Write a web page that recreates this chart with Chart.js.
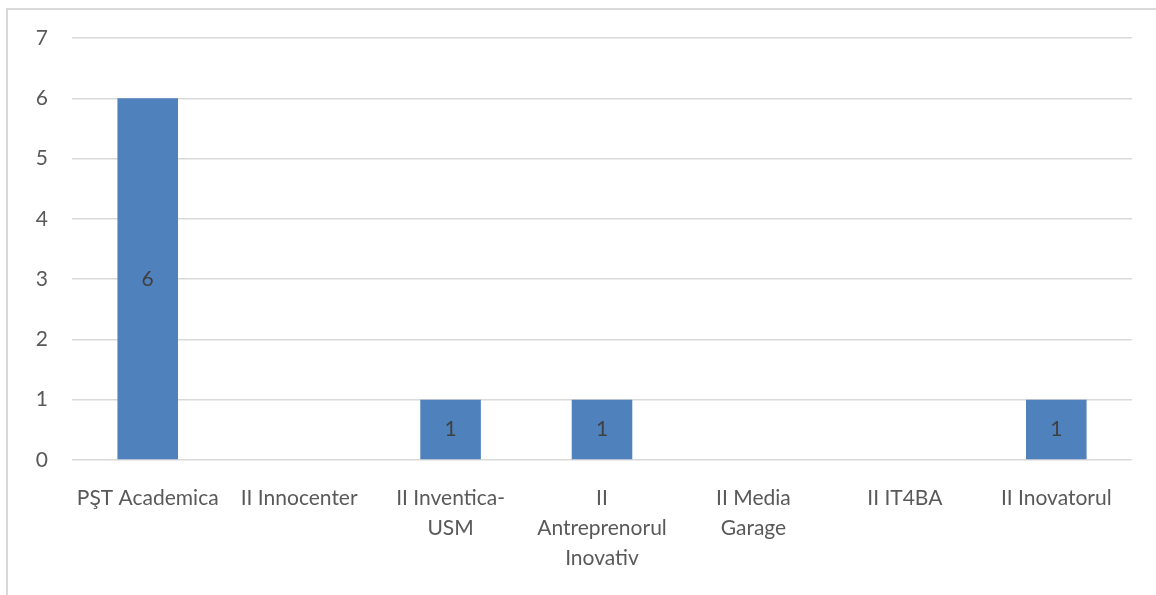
<!DOCTYPE html>
<html>
<head>
<meta charset="utf-8">
<script src="https://cdn.jsdelivr.net/npm/chart.js@4.4.0/dist/chart.umd.min.js"></script>
<style>
  html, body { margin: 0; padding: 0; background: #fff; }
  #wrap { position: relative; width: 1156px; height: 595px; overflow: hidden; }
  #frame { position: absolute; left: 6px; top: 8px; width: 1200px; height: 700px;
           border-left: 2px solid #d9d9d9; border-top: 2px solid #d9d9d9; }
  canvas { position: absolute; left: 0; top: 0; }
</style>
</head>
<body>
<div id="wrap">
  <div id="frame"></div>
  <canvas id="chart" width="1156" height="595"></canvas>
</div>
<script>
// categorii (etichete pe axa X, deja împărțite pe rânduri)
const categories = [
  'PŞT Academica',
  'II Innocenter',
  ['II Inventica-', 'USM'],
  ['II', 'Antreprenorul', 'Inovativ'],
  ['II Media', 'Garage'],
  'II IT4BA',
  'II Inovatorul'
];
const values = [6, 0, 1, 1, 0, 0, 1];
const yTicks = [0, 1, 2, 3, 4, 5, 6, 7];

const FONT = 'Lato, "Open Sans", sans-serif';

// etichete de date în mijlocul barelor
const barLabels = {
  id: 'barLabels',
  afterDatasetsDraw(chart) {
    const ctx = chart.ctx;
    const meta = chart.getDatasetMeta(0);
    ctx.save();
    ctx.font = '21px ' + FONT;
    ctx.fillStyle = '#404040';
    ctx.textAlign = 'center';
    ctx.textBaseline = 'middle';
    meta.data.forEach((bar, i) => {
      if (!values[i]) return;
      ctx.fillText(String(values[i]), bar.x, (bar.y + bar.base) / 2);
    });
    ctx.restore();
  }
};

new Chart(document.getElementById('chart').getContext('2d'), {
  type: 'bar',
  data: {
    labels: categories,
    datasets: [{
      data: values,
      backgroundColor: '#4F81BD',
      borderWidth: 0,
      categoryPercentage: 1,
      barPercentage: 0.4
    }]
  },
  options: {
    responsive: false,
    animation: false,
    layout: { padding: { left: 0, right: 24, top: 38, bottom: 0 } },
    plugins: { legend: { display: false }, tooltip: { enabled: false } },
    scales: {
      x: {
        grid: { display: false },
        border: { display: false },
        ticks: {
          color: '#595959',
          font: { family: FONT, size: 21, lineHeight: 1.43 },
          padding: 15,
          maxRotation: 0,
          autoSkip: false
        },
        afterFit(scale) { scale.height = 135; }
      },
      y: {
        min: 0,
        max: 7,
        grid: { color: '#D9D9D9', lineWidth: 1.5, drawTicks: false },
        border: { display: false },
        afterBuildTicks(scale) { scale.ticks = yTicks.map(v => ({ value: v })); },
        ticks: {
          color: '#595959',
          font: { family: FONT, size: 21 },
          padding: 24
        },
        afterFit(scale) { scale.width = 72; }
      }
    }
  },
  plugins: [barLabels]
});
</script>
</body>
</html>
